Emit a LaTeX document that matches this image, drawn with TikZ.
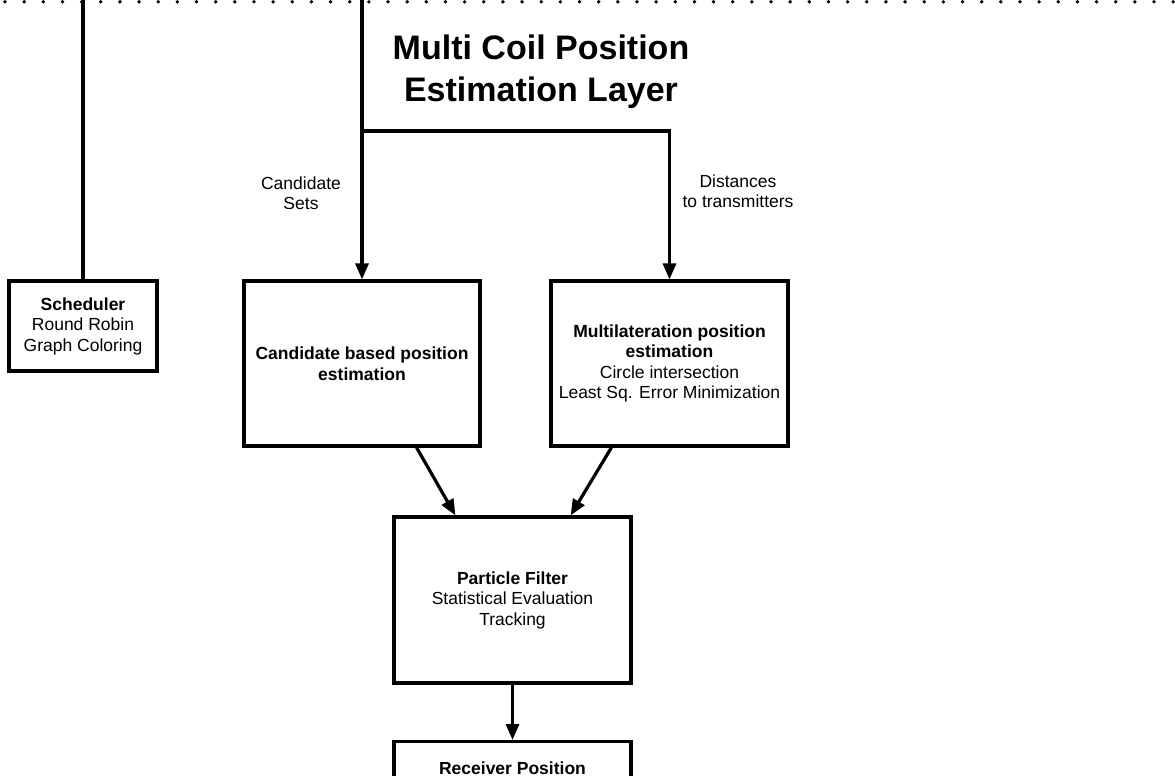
\documentclass[tikz,border=0pt]{standalone}
\usepackage{fontspec}
\setmainfont{Liberation Sans}
\usetikzlibrary{arrows.meta,calc}
\begin{document}
\begin{tikzpicture}[x=1pt,y=-1pt,
  wire/.style={line width=3.2pt, line join=miter},
  flow/.style={wire,-{Triangle[length=16pt,width=13pt]}},
  stage/.style={draw, line width=3.2pt, rectangle, align=center, inner sep=0pt,
    font=\fontsize{17.5}{20.5}\selectfont},
  note/.style={align=center, inner sep=0pt, font=\fontsize{17.5}{19.5}\selectfont},
  boundary/.style={line width=3.8pt, line cap=round, dash pattern=on 0pt off 19.15pt}
]
\useasboundingbox (0,0) rectangle (1175,776);
\clip (0,0) rectangle (1175,776);

% layer boundary
\draw[boundary] (5,1.8) -- (1175,1.8);

% title (anchor on the baseline of its last line)
\node[font=\bfseries\fontsize{34}{42}\selectfont, align=center, anchor=base, inner sep=0pt]
  (title) at (541,101) {Multi Coil Position\\Estimation Layer};

% processing stages
\node[stage, minimum width=148pt, minimum height=90pt] (sched) at (83,326)
  {\textbf{Scheduler}\\Round Robin\\Graph Coloring};
\node[stage, minimum width=236pt, minimum height=165pt] (cand) at (362,363.5)
  {\textbf{Candidate based position}\\\textbf{estimation}};
\node[stage, minimum width=237pt, minimum height=165pt] (multi) at (669.5,363.5)
  {\textbf{Multilateration position}\\\textbf{estimation}\\Circle intersection\\Least Sq. Error Minimization};
\node[stage, minimum width=237pt, minimum height=166pt] (pf) at (512.5,600)
  {\textbf{Particle Filter}\\Statistical Evaluation\\Tracking};
\node[stage, minimum width=237pt, minimum height=160pt, anchor=north,
  label={[note, font=\bfseries\fontsize{17.5}{20.5}\selectfont, anchor=base, yshift=-34pt]north:Receiver Position}]
  (recv) at (512.5,740) {};

% edge labels
\node[note] (lblcand) at (301,193) {Candidate\\Sets};
\node[note] (lbldist) at (738,191) {Distances\\to transmitters};

% connectors
\coordinate (schedtop) at (83,0);
\coordinate (layertop) at (362,0);
\coordinate (split) at (362,131);
\draw[wire] (schedtop) -- (sched.north);
\draw[flow] (layertop) -- (cand.north);
\draw[flow] (split) -| (multi.north);
\draw[flow] ($(cand.south east)+(-65,0)$) -- ($(pf.north west)+(63,0)$);
\draw[flow] ($(multi.south west)+(62,0)$) -- ($(pf.north east)+(-62,0)$);
\draw[flow] (pf.south) -- (recv.north);
\end{tikzpicture}
\end{document}
